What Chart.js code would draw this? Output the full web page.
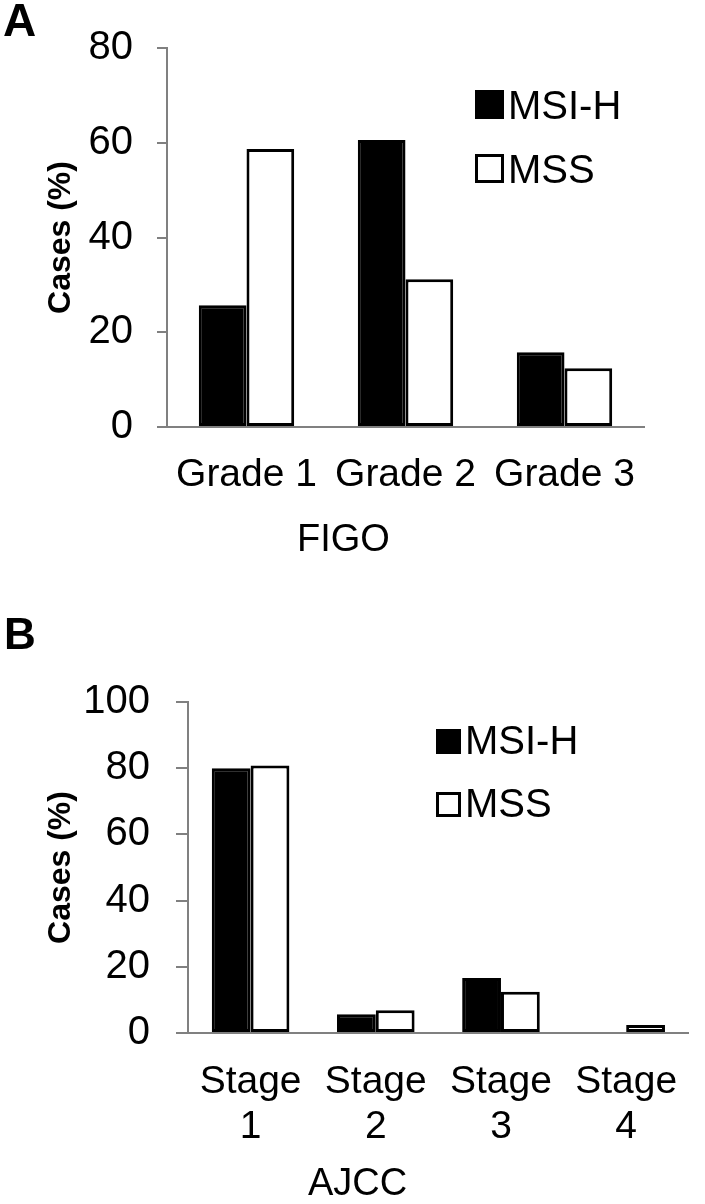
<!DOCTYPE html>
<html>
<head>
<meta charset="utf-8">
<script src="https://cdn.jsdelivr.net/npm/chart.js@4.4.1/dist/chart.umd.min.js"></script>
<style>
  body { margin: 0; background: #fff; }
  .panel { position: relative; width: 705px; }
  #wrapA { height: 575px; }
  #wrapB { height: 629px; }
</style>
</head>
<body>
<div class="panel" id="wrapA"><canvas id="chartA"></canvas></div>
<div class="panel" id="wrapB"><canvas id="chartB"></canvas></div>
<script>
// Panel A data (FIGO grade)
const gradeLabels = ['Grade 1', 'Grade 2', 'Grade 3'];
const gradeMsiH = [25.7, 60.6, 15.8];
const gradeMss = [58.7, 31.2, 12.4];

// Panel B data (AJCC stage)
const stageLabels = [['Stage', '1'], ['Stage', '2'], ['Stage', '3'], ['Stage', '4']];
const stageMsiH = [80.0, 5.7, 16.6, 0];
const stageMss = [80.8, 6.9, 12.5, 2.4];

const FONT = '"Liberation Sans", Arial, Helvetica, sans-serif';
const AXIS_GREY = '#808080';

Chart.defaults.font.family = FONT;
Chart.defaults.color = '#000';

// draws panel letter, x caption and the boxed legend
const panelText = {
  id: 'panelText',
  afterDraw(chart, args, opts) {
    const ctx = chart.ctx;
    ctx.save();
    ctx.textBaseline = 'alphabetic';
    ctx.textAlign = 'left';
    (opts.items || []).forEach(t => {
      ctx.fillStyle = '#000';
      ctx.font = t.font;
      ctx.fillText(t.text, t.x, t.y);
    });
    const lg = opts.legend;
    if (lg) {
      chart.data.datasets.forEach((ds, i) => {
        const y = lg.y + i * lg.gap;
        ctx.fillStyle = ds.backgroundColor;
        ctx.fillRect(lg.x, y, lg.box, lg.box);
        ctx.lineWidth = 3;
        ctx.strokeStyle = '#000';
        ctx.strokeRect(lg.x + 1.5, y + 1.5, lg.box - 3, lg.box - 3);
        ctx.fillStyle = '#000';
        ctx.font = lg.font;
        ctx.fillText(ds.label, lg.x + lg.box + 4, y + lg.box);
      });
    }
    ctx.restore();
  }
};

function makeDatasets(msi, mss) {
  return [
    { label: 'MSI-H', data: msi, backgroundColor: '#000', borderColor: '#000', borderWidth: 3, borderSkipped: false },
    { label: 'MSS', data: mss, backgroundColor: '#fff', borderColor: '#000', borderWidth: 3, borderSkipped: false }
  ];
}

function makeOptions(cfg) {
  return {
    responsive: true,
    maintainAspectRatio: false,
    animation: false,
    layout: { padding: cfg.padding },
    datasets: { bar: { categoryPercentage: cfg.catPct, barPercentage: 1.0 } },
    scales: {
      x: {
        ticks: { color: '#000', font: { size: 39, lineHeight: 1.15 }, padding: cfg.xPad, maxRotation: 0, autoSkip: false },
        grid: { display: false, drawTicks: false },
        border: { display: true, color: AXIS_GREY, width: 2 },
        afterFit: s => { s.height = cfg.xHeight; }
      },
      y: {
        min: 0,
        max: cfg.yMax,
        ticks: { stepSize: 20, color: '#000', font: { size: 40 }, padding: cfg.yPad },
        grid: { drawOnChartArea: false, drawTicks: true, tickLength: cfg.tickLen, color: AXIS_GREY, lineWidth: 2 },
        border: { color: AXIS_GREY, width: 2 },
        title: { display: true, text: 'Cases (%)', color: '#000', font: { size: 32, weight: 'bold' }, padding: { top: 42, bottom: 0 } },
        afterFit: s => { s.width = cfg.yWidth; }
      }
    },
    plugins: {
      legend: { display: false },
      tooltip: { enabled: false },
      panelText: { items: cfg.items, legend: cfg.legend }
    }
  };
}

new Chart(document.getElementById('chartA'), {
  type: 'bar',
  data: { labels: gradeLabels, datasets: makeDatasets(gradeMsiH, gradeMss) },
  options: makeOptions({
    padding: { left: 0, right: 61, top: 47, bottom: 0 },
    catPct: 0.6, xPad: 26, xHeight: 148, yMax: 80, yPad: 24, tickLen: 10, yWidth: 167,
    items: [
      { text: 'A', x: 3, y: 36, font: 'bold 46px ' + FONT },
      { text: 'FIGO', x: 297, y: 551, font: '38px ' + FONT }
    ],
    legend: { x: 475, y: 90, box: 29, gap: 64, font: '40px ' + FONT }
  }),
  plugins: [panelText]
});

new Chart(document.getElementById('chartB'), {
  type: 'bar',
  data: { labels: stageLabels, datasets: makeDatasets(stageMsiH, stageMss) },
  options: makeOptions({
    padding: { left: 0, right: 7, top: 127, bottom: 0 },
    catPct: 0.62, xPad: 27, xHeight: 171, yMax: 100, yPad: 26, tickLen: 12, yWidth: 188,
    items: [
      { text: 'B', x: 4, y: 74, font: 'bold 44px ' + FONT },
      { text: 'AJCC', x: 308, y: 620, font: '38px ' + FONT }
    ],
    legend: { x: 436, y: 154, box: 25, gap: 63, font: '40px ' + FONT }
  }),
  plugins: [panelText]
});
</script>
</body>
</html>
